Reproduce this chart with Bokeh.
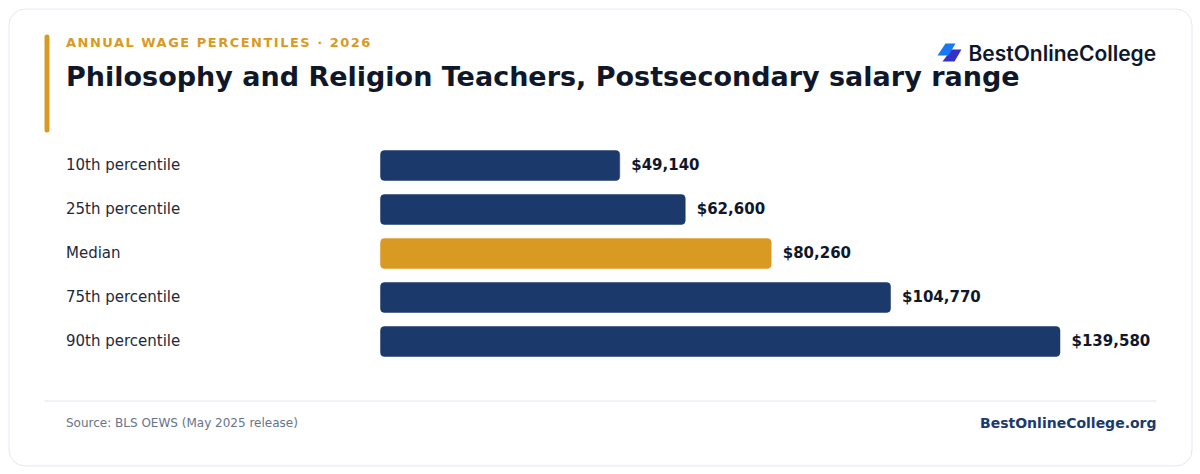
from bokeh.core.properties import value
from bokeh.embed import file_html
from bokeh.io import curdoc
from bokeh.models import BoxAnnotation, ColumnDataSource, CustomJS, Range1d
from bokeh.plotting import figure
from bokeh.resources import INLINE

# Data
labels = ["10th percentile", "25th percentile", "Median", "75th percentile", "90th percentile"]
wages = [49140, 62600, 80260, 104770, 139580]
eyebrow = "ANNUAL WAGE PERCENTILES · 2026"
title = "Philosophy and Religion Teachers, Postsecondary salary range"
source_note = "Source: BLS OEWS (May 2025 release)"
site = "BestOnlineCollege.org"
logo_name = "BestOnlineCollege"

NAVY = "#1b3a6b"
AMBER = "#d99a24"
INK = "#0f172a"
FONT = value("DejaVu Sans")

# Bars run from page x=380, the largest one stops at page x=1060
W, H = 1200, 474
px_per_dollar = (1059.5 - 380) / max(wages)
row_px = 44
first_row_y = 165

p = figure(
    width=W, height=H, output_backend="svg", toolbar_location=None,
    x_range=Range1d(-380 / px_per_dollar, (W - 380) / px_per_dollar),
    y_range=Range1d((H - first_row_y) / row_px, -first_row_y / row_px),
    min_border=0, outline_line_color=None, background_fill_color="white",
    border_fill_color="white",
)
p.axis.visible = False
p.grid.visible = False

# Second set of ranges in page pixels, for the card furniture
p.extra_x_ranges["px"] = Range1d(0, W)
p.extra_y_ranges["px"] = Range1d(H, 0)

p.add_layout(BoxAnnotation(
    left=8.5, right=1191.5, top=8.5, bottom=465.5, x_range_name="px", y_range_name="px",
    fill_color="white", fill_alpha=1, line_color="#e2e8f0", line_alpha=1, line_width=1,
    border_radius=16, level="underlay",
))

source = ColumnDataSource(dict(
    row=list(range(len(labels))),
    label=labels,
    wage=wages,
    start=[0] * len(wages),
    text=[f"${w:,}" for w in wages],
    color=[AMBER if l == "Median" else NAVY for l in labels],
))

p.hbar(y="row", left="start", right="wage", height=30 / row_px, source=source,
       fill_color="color", line_color="color", line_width=0.5, border_radius=4)
p.text(x="wage", y="row", text="text", source=source, x_offset=11.5, y_offset=-1,
       text_font=FONT, text_font_style="bold", text_font_size="15px",
       text_baseline="middle", text_color=INK)
p.text(x=65.5, y="row", text="label", source=source, x_range_name="px", y_offset=-1,
       text_font=FONT, text_font_size="15px", text_baseline="middle", text_color="#1e293b")

# Accent bar
p.add_layout(BoxAnnotation(
    left=44, right=49, top=34, bottom=132, x_range_name="px", y_range_name="px",
    fill_color=AMBER, fill_alpha=1, line_color=None, border_radius=3,
))

p.text(x=[65.5], y=[41.5], text=[eyebrow], x_range_name="px", y_range_name="px",
       text_font=FONT, text_font_style="bold", text_font_size="13px",
       text_baseline="middle", text_color=AMBER)
p.text(x=[65.5], y=[76], text=[title], x_range_name="px", y_range_name="px",
       text_font=FONT, text_font_style="bold", text_font_size="27px",
       text_baseline="middle", text_color=INK)

# Logo
p.patch([951, 961, 954, 942], [49, 49, 61, 61], x_range_name="px", y_range_name="px",
        fill_color="#3730c4", line_color=None)
p.patch([945, 955, 948, 937], [43, 43, 55, 55], x_range_name="px", y_range_name="px",
        fill_color="#1877f2", line_color=None)
p.text(x=[968], y=[53], text=[logo_name], x_range_name="px", y_range_name="px",
       text_font=value("Inter"), text_font_style="bold", text_font_size="21px",
       text_baseline="middle", text_color=INK)

# Footer
p.line([44, 1156], [400.5, 400.5], x_range_name="px", y_range_name="px",
       line_color="#e2e5f2", line_width=1.2)
p.text(x=[65.5], y=[422], text=[source_note], x_range_name="px", y_range_name="px",
       text_font=FONT, text_font_size="12px", text_baseline="middle", text_color="#64748b")
p.text(x=[1156], y=[422], text=[site], x_range_name="px", y_range_name="px",
       text_font=FONT, text_font_style="bold", text_font_size="14px",
       text_align="right", text_baseline="middle", text_color=NAVY)

# Bokeh has no letter spacing or 600 weight for text, so set them on the svg elements once drawn
spacing = CustomJS(code="""
const walk = (root) => root.querySelectorAll('*').forEach((el) => {
  if (el.tagName === 'text' && el.textContent.startsWith('ANNUAL')) el.style.letterSpacing = '1.5px';
  if (el.tagName === 'text' && el.textContent === 'BestOnlineCollege') el.style.fontWeight = '600';
  if (el.shadowRoot) walk(el.shadowRoot);
});
setTimeout(() => walk(document), 50);
""")
curdoc().add_root(p)
curdoc().js_on_event("document_ready", spacing)

open("out.html", "w").write(file_html(p, INLINE))
